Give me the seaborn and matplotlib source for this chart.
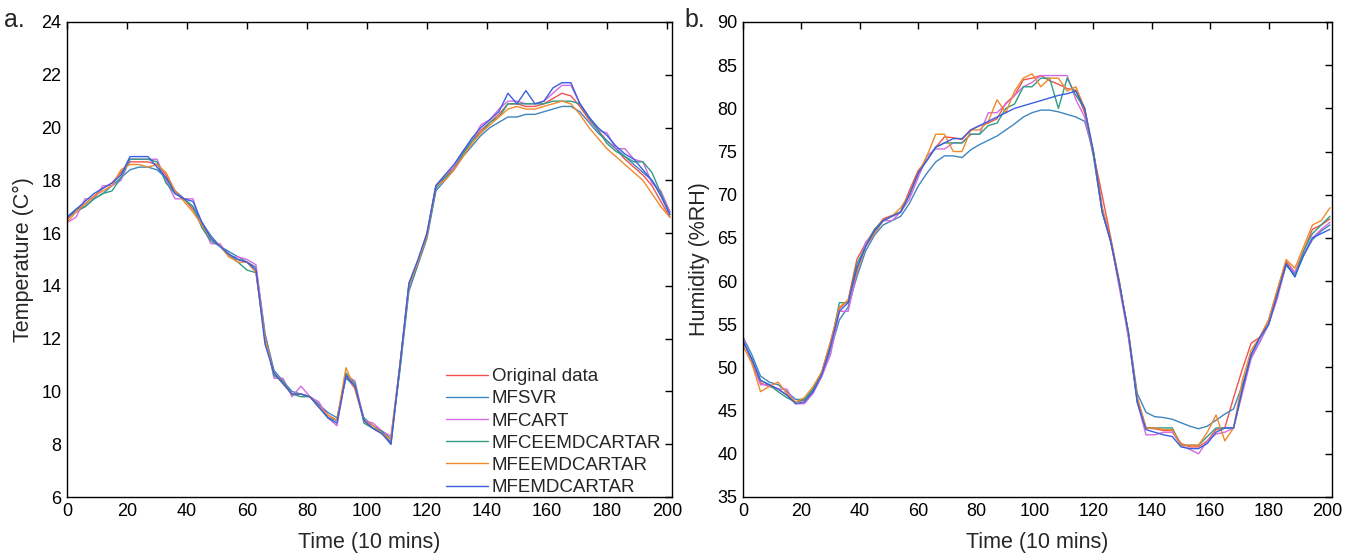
import numpy as np
import pandas as pd
import matplotlib
matplotlib.use("Agg")
import matplotlib.pyplot as plt
import seaborn as sns

# ---------------- data ----------------
time = list(range(0, 202, 3))  # 0..201 (68 points)

series_names = ["Original data", "MFSVR", "MFCART", "MFCEEMDCARTAR",
                "MFEEMDCARTAR", "MFEMDCARTAR"]
series_colors = ["#f0524f", "#3f86bd", "#d46be0", "#2f9c84", "#f08a2a", "#3a5fe0"]

temp_original = [16.5, 16.9, 17.1, 17.4, 17.7, 17.9, 18.3, 18.7, 18.7, 18.7,
                 18.6, 18.2, 17.6, 17.3, 16.9, 16.4, 15.8, 15.5, 15.2, 15.0,
                 14.9, 14.7, 12.0, 10.7, 10.3, 9.9, 9.9, 9.8, 9.5, 9.1,
                 8.9, 10.6, 10.1, 8.9, 8.6, 8.4, 8.1, 11.0, 14.0, 14.9,
                 15.9, 17.8, 18.1, 18.5, 19.0, 19.5, 19.9, 20.2, 20.5, 20.9,
                 20.9, 20.8, 20.8, 20.9, 21.1, 21.3, 21.2, 20.8, 20.3, 19.9,
                 19.5, 19.2, 18.8, 18.5, 18.2, 17.8, 17.2, 16.6]
temp_mfsvr = [16.6, 16.8, 17.0, 17.3, 17.5, 17.8, 18.1, 18.4, 18.5, 18.5,
              18.4, 18.1, 17.6, 17.3, 17.0, 16.4, 15.9, 15.5, 15.3, 15.1,
              14.9, 14.7, 12.2, 10.8, 10.4, 10.0, 9.9, 9.8, 9.5, 9.2,
              9.0, 10.5, 10.2, 9.0, 8.7, 8.5, 8.2, 10.8, 13.8, 14.8,
              15.8, 17.6, 18.0, 18.4, 18.9, 19.3, 19.7, 20.0, 20.2, 20.4,
              20.4, 20.5, 20.5, 20.6, 20.7, 20.8, 20.8, 20.6, 20.2, 19.8,
              19.5, 19.2, 18.9, 18.6, 18.3, 18.0, 17.5, 16.8]
temp_mfcart = [16.4, 16.6, 17.3, 17.3, 17.8, 17.8, 18.0, 18.8, 18.8, 18.8,
               18.8, 18.0, 17.3, 17.3, 17.3, 16.3, 15.6, 15.6, 15.1, 15.1,
               15.0, 14.8, 12.2, 10.5, 10.5, 9.8, 10.2, 9.8, 9.6, 9.0,
               8.7, 10.6, 10.4, 8.9, 8.8, 8.5, 8.3, 11.0, 14.1, 14.9,
               16.0, 17.8, 18.2, 18.5, 19.1, 19.5, 20.1, 20.3, 20.7, 21.0,
               21.0, 20.9, 20.9, 21.0, 21.3, 21.6, 21.6, 20.9, 20.4, 19.9,
               19.8, 19.2, 19.2, 18.8, 18.7, 17.9, 17.6, 16.8]
temp_mfceemd = [16.6, 16.9, 17.0, 17.3, 17.5, 17.6, 18.1, 18.8, 18.8, 18.8,
                18.7, 17.9, 17.5, 17.3, 17.0, 16.2, 15.7, 15.5, 15.2, 14.9,
                14.6, 14.5, 12.1, 10.6, 10.4, 9.9, 9.8, 9.8, 9.4, 9.0,
                8.9, 10.7, 10.3, 8.8, 8.6, 8.5, 8.0, 10.9, 14.0, 14.9,
                15.9, 17.7, 18.1, 18.4, 19.0, 19.5, 19.8, 20.2, 20.4, 20.9,
                20.9, 20.9, 20.9, 20.9, 21.0, 21.0, 21.0, 20.9, 20.4, 19.9,
                19.4, 19.1, 18.9, 18.7, 18.7, 18.3, 17.5, 16.7]
temp_mfeemd = [16.4, 16.8, 17.1, 17.4, 17.6, 17.8, 18.4, 18.6, 18.6, 18.5,
               18.6, 18.3, 17.6, 17.2, 16.8, 16.3, 15.8, 15.5, 15.1, 14.9,
               14.9, 14.5, 12.0, 10.7, 10.3, 9.9, 9.9, 9.8, 9.4, 9.1,
               8.9, 10.9, 10.1, 8.9, 8.7, 8.4, 8.2, 11.0, 14.0, 14.9,
               15.9, 17.8, 18.0, 18.4, 18.9, 19.4, 19.8, 20.1, 20.4, 20.7,
               20.8, 20.7, 20.7, 20.8, 20.9, 21.0, 20.9, 20.5, 20.0, 19.6,
               19.2, 18.9, 18.6, 18.3, 18.0, 17.5, 17.0, 16.6]
temp_mfemd = [16.6, 16.9, 17.2, 17.5, 17.7, 17.9, 18.2, 18.9, 18.9, 18.9,
              18.5, 18.1, 17.5, 17.3, 17.2, 16.4, 15.8, 15.5, 15.2, 15.0,
              14.9, 14.6, 11.8, 10.7, 10.3, 9.9, 9.9, 9.8, 9.4, 9.0,
              8.8, 10.6, 10.2, 8.9, 8.6, 8.4, 8.0, 11.0, 14.1, 15.0,
              16.0, 17.8, 18.2, 18.6, 19.1, 19.6, 20.0, 20.3, 20.6, 21.3,
              20.9, 21.4, 20.9, 21.0, 21.5, 21.7, 21.7, 20.9, 20.4, 20.0,
              19.7, 19.3, 19.0, 18.8, 18.4, 18.0, 17.4, 16.7]

hum_original = [53.2, 50.8, 48.2, 47.8, 47.5, 46.8, 46.0, 46.2, 47.5, 49.5,
                53.0, 56.8, 57.8, 62.5, 64.4, 65.9, 67.2, 67.6, 68.0, 70.5,
                72.8, 74.0, 75.5, 76.7, 76.6, 76.4, 77.5, 78.0, 78.3, 78.8,
                80.6, 81.5, 83.3, 83.5, 83.8, 83.2, 82.8, 82.3, 82.1, 79.5,
                74.8, 69.9, 64.9, 59.8, 53.5, 46.5, 43.0, 42.9, 42.7, 42.7,
                41.2, 40.8, 40.8, 41.5, 42.8, 43.0, 46.5, 49.8, 52.8, 53.5,
                55.5, 59.0, 62.3, 61.0, 63.5, 66.0, 66.5, 67.2]
hum_mfsvr = [53.5, 51.5, 49.0, 48.3, 48.0, 47.2, 46.3, 46.3, 47.2, 49.0,
             52.0, 55.5, 57.0, 60.5, 63.5, 65.3, 66.5, 67.0, 67.5, 69.0,
             71.0, 72.5, 73.8, 74.5, 74.5, 74.3, 75.2, 75.8, 76.3, 76.8,
             77.5, 78.2, 79.0, 79.5, 79.8, 79.8, 79.6, 79.3, 79.0, 78.5,
             75.0, 68.5, 64.5, 59.5, 54.0, 47.0, 44.8, 44.3, 44.2, 44.0,
             43.6, 43.2, 42.9, 43.2, 43.9, 44.6, 45.2, 48.0, 51.2, 53.0,
             55.0, 58.5, 61.8, 60.8, 63.0, 64.8, 65.8, 66.5]
hum_mfcart = [53.5, 50.5, 48.0, 48.0, 47.5, 47.5, 45.8, 45.8, 47.0, 49.0,
              51.5, 56.5, 56.5, 61.0, 64.5, 65.5, 67.0, 67.0, 68.0, 69.5,
              72.0, 74.5, 75.3, 75.3, 76.0, 76.0, 77.0, 77.0, 79.5, 79.5,
              80.5, 81.5, 82.5, 83.0, 83.8, 83.8, 83.8, 83.8, 81.0, 79.0,
              74.5, 68.0, 64.5, 59.0, 53.5, 46.0, 42.2, 42.2, 42.5, 42.5,
              41.0, 40.5, 40.0, 41.5, 42.3, 42.5, 43.0, 47.0, 51.0, 53.0,
              55.0, 58.0, 62.0, 61.0, 63.0, 65.0, 66.0, 66.8]
hum_mfceemd = [53.0, 51.0, 48.5, 48.0, 47.2, 46.5, 46.0, 46.3, 47.5, 49.5,
               52.5, 57.5, 57.5, 62.0, 64.0, 66.0, 67.0, 67.5, 68.0, 70.0,
               72.5, 74.0, 75.5, 76.0, 76.0, 76.0, 77.0, 77.0, 78.0, 78.3,
               80.0, 80.5, 82.5, 82.5, 83.5, 83.5, 80.0, 83.5, 81.5, 80.0,
               74.5, 68.0, 64.5, 59.5, 54.0, 46.0, 43.0, 43.0, 43.0, 43.0,
               41.0, 41.0, 41.0, 42.0, 43.0, 43.0, 43.0, 47.5, 51.5, 53.5,
               55.0, 58.5, 62.0, 60.5, 63.5, 65.5, 66.5, 67.5]
hum_mfeemd = [52.5, 50.5, 47.2, 47.8, 48.3, 47.0, 46.0, 46.5, 47.8, 49.5,
              53.0, 57.0, 57.8, 61.0, 64.0, 65.5, 67.0, 67.5, 68.5, 70.0,
              72.5, 74.5, 77.0, 77.0, 75.0, 75.0, 77.5, 77.5, 78.5, 81.0,
              79.5, 82.0, 83.5, 84.0, 82.5, 83.5, 83.5, 82.0, 82.5, 80.0,
              75.0, 68.5, 64.5, 59.5, 54.0, 46.5, 43.0, 43.0, 42.8, 42.8,
              41.0, 41.0, 41.0, 42.5, 44.5, 41.5, 43.0, 48.5, 52.0, 53.5,
              55.5, 59.0, 62.5, 61.5, 64.0, 66.5, 67.0, 68.5]
hum_mfemd = [53.0, 51.0, 48.5, 48.0, 47.5, 46.8, 45.8, 46.0, 47.2, 49.2,
             52.5, 56.5, 57.5, 61.5, 64.0, 65.8, 67.0, 67.5, 68.0, 70.0,
             72.5, 74.0, 75.5, 76.0, 76.5, 76.5, 77.5, 78.0, 78.5, 79.0,
             79.5, 80.0, 80.3, 80.6, 80.9, 81.2, 81.5, 81.7, 82.0, 80.0,
             75.0, 68.0, 64.5, 59.5, 54.0, 46.0, 42.8, 42.5, 42.2, 42.0,
             40.8, 40.6, 40.6, 41.2, 42.5, 43.0, 43.0, 47.5, 51.5, 53.5,
             55.0, 58.5, 62.0, 60.5, 63.0, 65.0, 65.5, 66.0]

x_ticks = [0, 20, 40, 60, 80, 100, 120, 140, 160, 180, 200]
temp_ticks = [6, 8, 10, 12, 14, 16, 18, 20, 22, 24]
hum_ticks = [35, 40, 45, 50, 55, 60, 65, 70, 75, 80, 85, 90]

# ---------------- frames ----------------
def long_frame(series):
    parts = []
    for name, vals in zip(series_names, series):
        parts.append(pd.DataFrame({"Time": time, "Value": vals, "Model": name}))
    return pd.concat(parts, ignore_index=True)

df_temp = long_frame([temp_original, temp_mfsvr, temp_mfcart, temp_mfceemd,
                      temp_mfeemd, temp_mfemd])
df_hum = long_frame([hum_original, hum_mfsvr, hum_mfcart, hum_mfceemd,
                     hum_mfeemd, hum_mfemd])
palette = dict(zip(series_names, series_colors))

# ---------------- plot ----------------
sns.set_style("white")
plt.rcParams["font.family"] = ["Liberation Sans", "DejaVu Sans"]

fig = plt.figure(figsize=(13.46, 5.59), dpi=100)
W, H = 1346, 559
ax1 = fig.add_axes([67 / W, 62 / H, 605 / W, 475 / H])
ax2 = fig.add_axes([743 / W, 62 / H, 589 / W, 475 / H])

for ax, df, ylab, yt, ylim, leg in [
        (ax1, df_temp, "Temperature (C°)", temp_ticks, (6, 24), True),
        (ax2, df_hum, "Humidity (%RH)", hum_ticks, (35, 90), False)]:
    sns.lineplot(data=df, x="Time", y="Value", hue="Model",
                 hue_order=series_names, palette=palette, sort=False,
                 estimator=None, linewidth=1.0, ax=ax, legend=leg)
    ax.set_xlim(0, 201.7)
    ax.set_ylim(*ylim)
    ax.set_xticks(x_ticks)
    ax.set_yticks(yt)
    ax.set_xlabel("Time (10 mins)", fontsize=15.5, labelpad=9)
    ax.set_ylabel(ylab, fontsize=15.5, labelpad=5)
    ax.tick_params(direction="in", length=5, width=1, top=True, right=True,
                   labelsize=13, pad=4, colors="black")
    for s in ax.spines.values():
        s.set_color("black")
        s.set_linewidth(1.0)

handles, labels = ax1.get_legend_handles_labels()
ax1.legend(handles, labels, loc="lower left",
           bbox_to_anchor=((445 - 67) / 605, 0.0),
           frameon=False, fontsize=13.5, handlelength=2.25, handletextpad=0.2,
           labelspacing=0.27, borderaxespad=0.0, borderpad=0.05)

fig.text(4 / W, 1 - 27 / H, "a.", fontsize=18, ha="left", va="baseline")
fig.text(684 / W, 1 - 27 / H, "b.", fontsize=18, ha="left", va="baseline")

fig.savefig("out.png", dpi=100, facecolor="white")
